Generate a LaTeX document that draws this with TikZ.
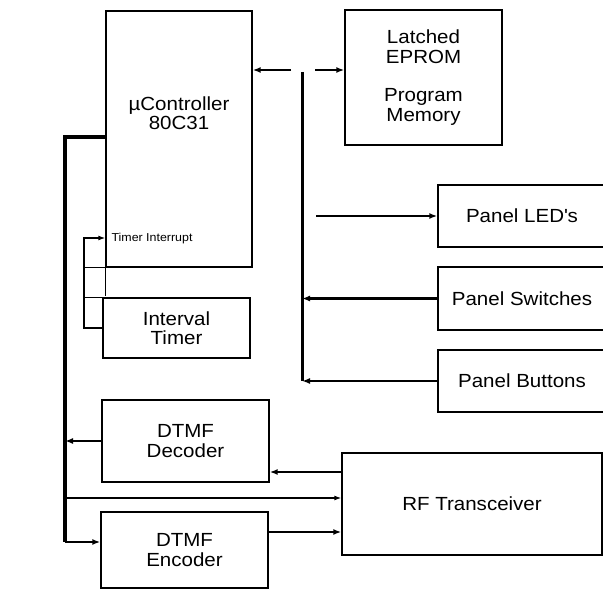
\documentclass[tikz,border=0pt]{standalone}
\usepackage{fontspec}
\setmainfont{Liberation Sans}[FakeStretch=1.08]
\usetikzlibrary{arrows.meta}
\begin{document}
\begin{tikzpicture}[x=1pt,y=-1pt,font=\fontsize{19}{19.5}\selectfont,
  block/.style={draw,line width=1.4pt,inner sep=0,align=center},
  arr/.style={line width=2.2pt,-{Latex[length=8pt,width=6pt]}},
  arrthin/.style={line width=1.2pt,-{Latex[length=7pt,width=5pt]}},
  bus/.style={line width=3pt}]
\useasboundingbox (0,0) rectangle (603,591);
\node[block,minimum width=146pt,minimum height=256pt](ctl)at(179,139){};
\node[align=center](ctltxt)at(179,113){µController\\80C31};
\node[block,minimum width=157pt,minimum height=135pt](eprom)at(423.5,77.5){Latched\\EPROM\\[19pt]Program\\Memory};
\node[block,minimum width=168pt,minimum height=62pt](led)at(522,216){Panel LED\textquotesingle s};
\node[block,minimum width=168pt,minimum height=63pt](sw)at(522,298.5){Panel Switches};
\node[block,minimum width=168pt,minimum height=62pt](btn)at(522,381){Panel Buttons};
\node[block,minimum width=147pt,minimum height=60pt](tim)at(176.5,328){Interval\\Timer};
\node[block,minimum width=167pt,minimum height=82pt](dec)at(185.5,441){DTMF\\Decoder};
\node[block,minimum width=167pt,minimum height=76pt](enc)at(184.5,550){DTMF\\Encoder};
\node[block,minimum width=260pt,minimum height=102pt](rf)at(472,504){RF Transceiver};
\node[anchor=west,font=\fontsize{11.5}{12}\selectfont](tint)at(108,239){Timer Interrupt};
% memory bus with its gap
\coordinate(ba)at(291,70);\coordinate(bb)at(315,70);
\draw[arr](ba)--(ba-|ctl.east);\draw[arr](bb)--(bb-|eprom.west);
% right bus to the panel
\coordinate(rtop)at(302,72);\coordinate(rbot)at(302,381);\coordinate(ledsrc)at(316,216);
\draw[bus](rtop)--(rbot);
\draw[arr](ledsrc)--(led.west);
\draw[arr](sw.west)--(sw.west-|rtop);\draw[arr](btn.west)--(btn.west-|rtop);
% left bus to the DTMF side
\coordinate(ltop)at(65,137);\coordinate(lbot)at(65,542);\coordinate(tap)at(65,498);
\draw[line width=4pt](ltop-|ctl.west)--(ltop)--(lbot);
\draw[arr](lbot)--(lbot-|enc.west);
\draw[arr](dec.west)--(dec.west-|ltop);
\draw[arrthin](tap)--(tap-|rf.west);
\draw[arr]([yshift=32pt]rf.west)--([yshift=32pt]rf.west-|dec.east);
\draw[arr]([yshift=18pt]enc.east)--([yshift=18pt]enc.east-|rf.west);
% timer loop
\coordinate(tia)at(84,238);
\draw[arrthin](tim.west)-|(tia)--(tia-|ctl.west);
\draw[line width=1.2pt](tia|-ctl.south)--(ctl.south west)--++(0,28);
\draw[line width=1.2pt](tia|-tim.north)--(tim.north west);
\end{tikzpicture}
\end{document}
